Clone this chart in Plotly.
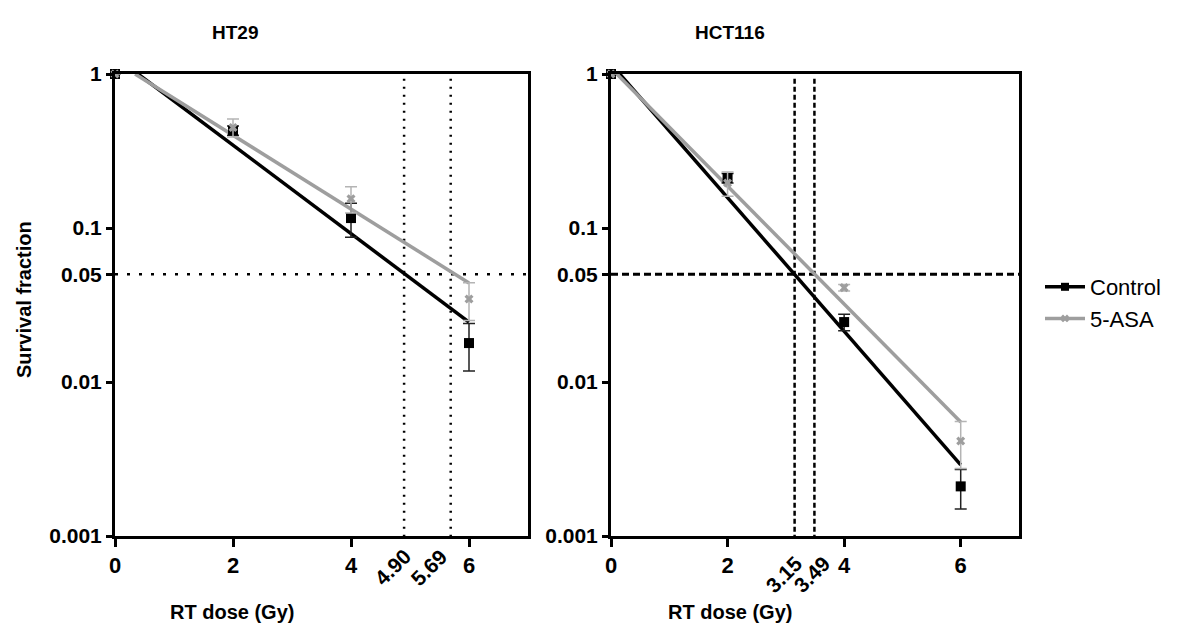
import plotly.graph_objects as go

# ---------------- data ----------------
dose = [0, 2, 4, 6]

ht29_ctrl = [1.0, 0.43, 0.116, 0.0179]
ht29_ctrl_err = [0, 0.03, 0.029, 0.0061]
ht29_asa = [1.0, 0.45, 0.155, 0.0346]
ht29_asa_err = [0, 0.06, 0.03, 0.0095]

hct_ctrl = [1.0, 0.211, 0.0245, 0.0021]
hct_ctrl_err = [0, 0.015, 0.003, 0.0006]
hct_asa = [1.0, 0.196, 0.041, 0.00414]
hct_asa_err = [0, 0.035, 0.002, 0.0014]

# fitted curves (start / end points)
ht29_ctrl_fit_x = [0.39, 6]
ht29_ctrl_fit_y = [1.0, 0.0245]
ht29_asa_fit_x = [0.34, 6]
ht29_asa_fit_y = [1.0, 0.044]
hct_ctrl_fit_x = [0.15, 6]
hct_ctrl_fit_y = [1.0, 0.0029]
hct_asa_fit_x = [0.10, 6]
hct_asa_fit_y = [1.0, 0.0055]

# doses giving 5% survival
ht29_d05 = [4.90, 5.69]
ht29_d05_labels = ["4.90", "5.69"]
hct_d05 = [3.15, 3.49]
hct_d05_labels = ["3.15", "3.49"]
sf_level = 0.05
sf_span = [0, 7]
vline_span = [0.93, 0.00088]

x_ticks = [0, 2, 4, 6]
x_ticklabels = ["0", "2", "4", "6"]
y_ticks = [1, 0.1, 0.05, 0.01, 0.001]
y_ticklabels = ["1", "0.1", "0.05", "0.01", "0.001"]

titles = ["HT29", "HCT116"]
x_title = "RT dose (Gy)"
y_title = "Survival fraction"
series_names = ["Control", "5-ASA"]

# ---------------- style ----------------
FONT = "Liberation Sans"
BLACK = "#000000"
GREY = "#9e9e9e"
GREY_ERR = "#b4b4b4"
OFF = 8                      # page body margin
W, H = 1178 - OFF, 639 - OFF


def px(v):
    return (v - OFF) / W


def py(v):
    return 1 - (v - OFF) / H


fig = go.Figure()


def add_panel(xa, ya, ctrl, ctrl_err, asa, asa_err, cfx, cfy, afx, afy,
              d05, dotted):
    vdash = "2px,6px" if dotted else "5px,3px"
    hdash = "3px,9px" if dotted else "7px,4px"
    hw = 2.5 if dotted else 3
    for d in d05:
        fig.add_trace(go.Scatter(x=[d, d], y=vline_span, mode="lines",
                                 line=dict(color=BLACK, width=2.5, dash=vdash),
                                 xaxis=xa, yaxis=ya, showlegend=False,
                                 hoverinfo="skip", cliponaxis=False))
    fig.add_trace(go.Scatter(x=sf_span, y=[sf_level, sf_level], mode="lines",
                             line=dict(color=BLACK, width=hw, dash=hdash),
                             xaxis=xa, yaxis=ya, showlegend=False,
                             hoverinfo="skip"))
    # fit lines
    fig.add_trace(go.Scatter(x=cfx, y=cfy, mode="lines",
                             line=dict(color=BLACK, width=3.5),
                             xaxis=xa, yaxis=ya, showlegend=False))
    fig.add_trace(go.Scatter(x=afx, y=afy, mode="lines",
                             line=dict(color=GREY, width=3.5),
                             xaxis=xa, yaxis=ya, showlegend=False))
    # points
    fig.add_trace(go.Scatter(x=dose, y=ctrl, mode="markers",
                             marker=dict(symbol="square", size=10, color=BLACK),
                             error_y=dict(type="data", array=ctrl_err,
                                          color="#222222", thickness=1.5,
                                          width=6),
                             xaxis=xa, yaxis=ya, showlegend=False,
                             cliponaxis=False))
    fig.add_trace(go.Scatter(x=dose, y=asa, mode="markers",
                             marker=dict(symbol="x", size=8, color=GREY),
                             error_y=dict(type="data", array=asa_err,
                                          color=GREY_ERR, thickness=1.5,
                                          width=6),
                             xaxis=xa, yaxis=ya, showlegend=False,
                             cliponaxis=False))


add_panel("x", "y", ht29_ctrl, ht29_ctrl_err, ht29_asa, ht29_asa_err,
          ht29_ctrl_fit_x, ht29_ctrl_fit_y, ht29_asa_fit_x, ht29_asa_fit_y,
          ht29_d05, True)
add_panel("x2", "y2", hct_ctrl, hct_ctrl_err, hct_asa, hct_asa_err,
          hct_ctrl_fit_x, hct_ctrl_fit_y, hct_asa_fit_x, hct_asa_fit_y,
          hct_d05, False)

# legend entries
fig.add_trace(go.Scatter(x=[None], y=[None], mode="lines+markers",
                         name=series_names[0],
                         line=dict(color=BLACK, width=3.5),
                         marker=dict(symbol="square", size=8, color=BLACK)))
fig.add_trace(go.Scatter(x=[None], y=[None], mode="lines+markers",
                         name=series_names[1],
                         line=dict(color=GREY, width=3.5),
                         marker=dict(symbol="x", size=7, color=GREY)))

xdoms = [[px(115), px(528)], [px(611), px(1019)]]
ydom = [py(536), py(74)]

xaxis_common = dict(range=[0, 7], tickvals=x_ticks, ticktext=x_ticklabels,
                    showline=True, linewidth=3, linecolor=BLACK, mirror=True,
                    ticks="outside", ticklen=8, tickwidth=3, tickcolor=BLACK,
                    showgrid=False, zeroline=False, automargin=False,
                    tickfont=dict(family=FONT, size=22, color=BLACK,
                                  weight="bold"))
yaxis_common = dict(type="log", range=[-3, 0], tickvals=y_ticks,
                    ticktext=y_ticklabels, automargin=False,
                    showline=True, linewidth=3, linecolor=BLACK, mirror=True,
                    ticks="outside", ticklen=6, tickwidth=3, tickcolor=BLACK,
                    showgrid=False, zeroline=False,
                    tickfont=dict(family=FONT, size=21, color=BLACK,
                                  weight="bold"))

fig.update_layout(
    width=W, height=H,
    margin=dict(l=0, r=0, t=0, b=0, pad=0, autoexpand=False),
    plot_bgcolor="white", paper_bgcolor="white",
    xaxis=dict(domain=xdoms[0], anchor="y", **xaxis_common),
    yaxis=dict(domain=ydom, anchor="x", **yaxis_common),
    xaxis2=dict(domain=xdoms[1], anchor="y2", **xaxis_common),
    yaxis2=dict(domain=ydom, anchor="x2", **yaxis_common),
    legend=dict(x=px(1040), y=py(266), xanchor="left", yanchor="top",
                font=dict(family=FONT, size=22, color=BLACK),
                itemwidth=40, tracegroupgap=0, bgcolor="rgba(0,0,0,0)"),
    showlegend=True,
)

bold = dict(family=FONT, color=BLACK, weight="bold")
ctr = dict(xref="paper", yref="paper", showarrow=False,
           xanchor="center", yanchor="middle")
ann = []
ann.append(dict(text=titles[0], x=px(235), y=py(33), font=dict(size=19, **bold), **ctr))
ann.append(dict(text=titles[1], x=px(730), y=py(33), font=dict(size=19, **bold), **ctr))
ann.append(dict(text=x_title, x=px(232), y=py(612), font=dict(size=20, **bold), **ctr))
ann.append(dict(text=x_title, x=px(730), y=py(612), font=dict(size=20, **bold), **ctr))
ann.append(dict(text=y_title, x=px(24), y=py(300), textangle=-90,
                font=dict(size=20, **bold), **ctr))

ht29_shifts = [-12, -22]
hct_shifts = [-11, -3]
for d, lab, s in zip(ht29_d05, ht29_d05_labels, ht29_shifts):
    ann.append(dict(text=lab, x=d, y=-3, xref="x", yref="y", showarrow=False,
                    xanchor="center", yanchor="middle",
                    textangle=-45, xshift=s, yshift=-31,
                    font=dict(size=21, **bold)))
for d, lab, s in zip(hct_d05, hct_d05_labels, hct_shifts):
    ann.append(dict(text=lab, x=d, y=-3, xref="x2", yref="y2",
                    showarrow=False, xanchor="center", yanchor="middle",
                    textangle=-45, xshift=s, yshift=-38,
                    font=dict(size=21, **bold)))
fig.update_layout(annotations=ann)

fig.write_html("out.html")
